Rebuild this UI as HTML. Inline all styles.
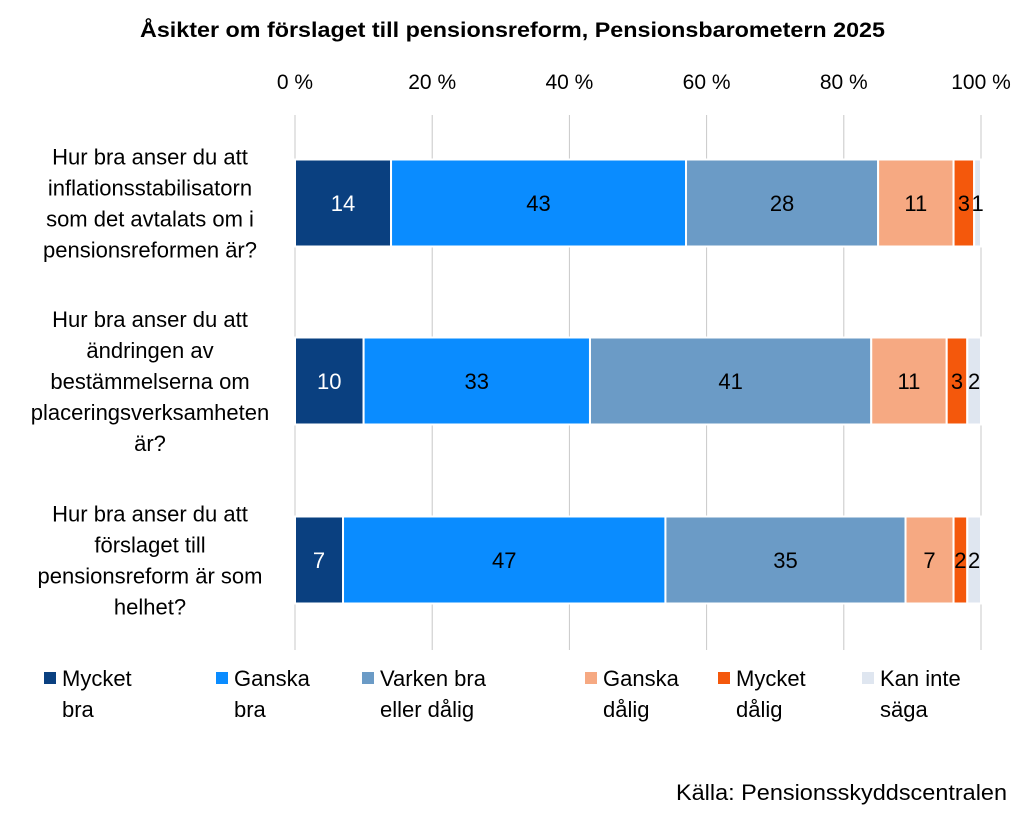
<!DOCTYPE html>
<html><head><meta charset="utf-8"><style>
body{margin:0;background:#fff;font-family:"Liberation Sans",sans-serif;}
svg text{font-family:"Liberation Sans",sans-serif;}
</style></head><body>
<svg id="chart" width="1024" height="817" viewBox="0 0 1024 817" xmlns="http://www.w3.org/2000/svg">
<rect width="1024" height="817" fill="#fff"/>
<text x="140" y="37" textLength="745" lengthAdjust="spacingAndGlyphs" font-size="21" font-weight="bold" fill="#000">Åsikter om förslaget till pensionsreform, Pensionsbarometern  2025</text>
<g id="grid"></g><g id="bars"></g><g id="cats"></g><g id="legend"></g>
<text x="1007" y="800" text-anchor="end" font-size="22" textLength="331" lengthAdjust="spacingAndGlyphs" fill="#000">Källa: Pensionsskyddscentralen</text>
</svg>
<script>
const ticks=["0 %","20 %","40 %","60 %","80 %","100 %"];
const tickValues=[0,20,40,60,80,100];
const seriesNames=["Mycket bra","Ganska bra","Varken bra eller dålig","Ganska dålig","Mycket dålig","Kan inte säga"];
const colors=["#0a4080","#0a8cff","#6b9bc6","#f6a982","#f4580c","#dfe6f0"];
const catLabels=[["Hur bra anser du att","inflationsstabilisatorn","som det avtalats om i","pensionsreformen är?"],["Hur bra anser du att","ändringen av","bestämmelserna om","placeringsverksamheten","är?"],["Hur bra anser du att","förslaget till","pensionsreform är som","helhet?"]];
const row1=[14,43,28,11,3,1];
const row2=[10,33,41,11,3,2];
const row3=[7,47,35,7,2,2];
const rows=[row1,row2,row3];
const NS="http://www.w3.org/2000/svg";
const x0=295,x1=981;
const xs=v=>x0+(x1-x0)*v/100;
const rowCenters=[203,381,560];
const barH=87;
function mk(t,a,p){const e=document.createElementNS(NS,t);for(const k in a)e.setAttribute(k,a[k]);p.appendChild(e);return e;}
const grid=document.getElementById('grid');
tickValues.forEach((v,i)=>{
 const l=mk('line',{x1:xs(v),x2:xs(v),y1:115,y2:650,stroke:'#c8c8c8','stroke-width':1},grid);
 
 
 const t=mk('text',{x:xs(v),y:89,'text-anchor':'middle','font-size':21,fill:'#000'},grid);
 t.textContent=ticks[i];
 
 
});
const bars=document.getElementById('bars');
rows.forEach((r,ri)=>{
 let acc=0;const yc=rowCenters[ri];
 r.forEach((v,si)=>{
  const rc=mk('rect',{x:xs(acc),y:yc-barH/2,width:xs(acc+v)-xs(acc),height:barH,fill:colors[si],stroke:'#fff','stroke-width':2},bars);
  
  
  const t=mk('text',{x:(xs(acc)+xs(acc+v))/2,y:yc+8,'text-anchor':'middle','font-size':22,fill:si==0?'#fff':'#000'},bars);
  t.textContent=v;
  
  
  acc+=v;
 });
});
const cats=document.getElementById('cats');
catLabels.forEach((lines,ci)=>{
 const lh=31,start=rowCenters[ci]-(lines.length-1)*lh/2+8;
 lines.forEach((s,li)=>{
  const t=mk('text',{x:150,y:start+li*lh,'text-anchor':'middle','font-size':22,fill:'#000'},cats);
  t.textContent=s;
  
  
 });
});
const legend=document.getElementById('legend');
const lx=[44,216,362,585,718,862];
const legLines=[["Mycket","bra"],["Ganska","bra"],["Varken bra","eller dålig"],["Ganska","dålig"],["Mycket","dålig"],["Kan inte","säga"]];
seriesNames.forEach((n,i)=>{
 const r=mk('rect',{x:lx[i],y:672,width:12,height:12,fill:colors[i]},legend);
 
 
 legLines[i].forEach((s,li)=>{
  const t=mk('text',{x:lx[i]+18,y:686+li*31,'font-size':22,fill:'#000'},legend);
  t.textContent=s;
  
  
 });
});
</script>
</body></html>
